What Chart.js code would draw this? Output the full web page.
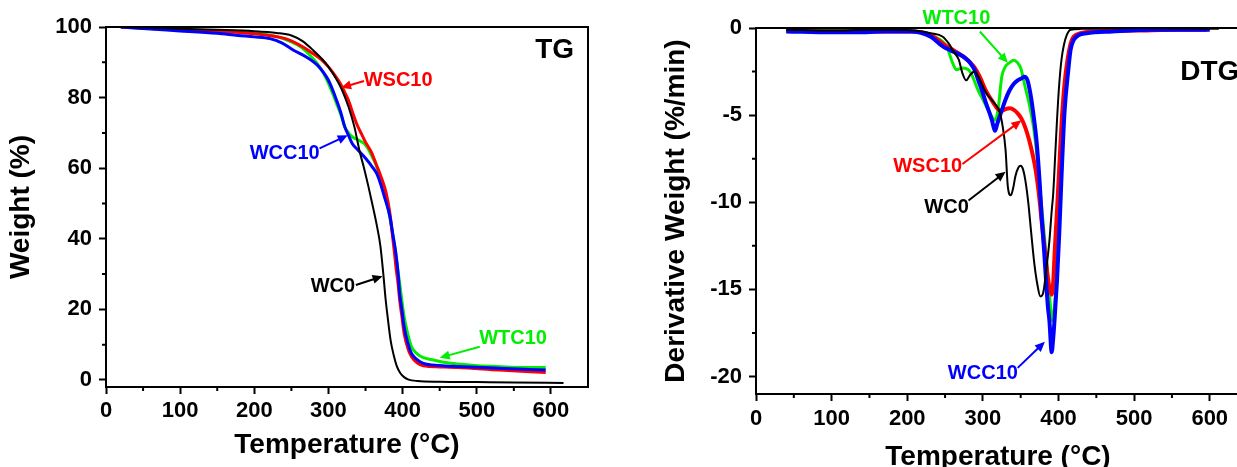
<!DOCTYPE html>
<html>
<head>
<meta charset="utf-8">
<script src="https://cdn.jsdelivr.net/npm/chart.js@4.4.1/dist/chart.umd.min.js"></script>
<style>
    html, body { margin: 0; padding: 0; background: #ffffff; overflow: hidden; width: 1237px; height: 467px; }
    #tgBox { position: absolute; left: 0; top: 0; width: 620px; height: 467px; }
    #dtgBox { position: absolute; left: 620px; top: 0; width: 660px; height: 480px; }
</style>
</head>
<body>
<div id="tgBox"><canvas id="tg" width="620" height="467"></canvas></div>
<div id="dtgBox"><canvas id="dtg" width="660" height="480"></canvas></div>
<script>
const FONT = '"Liberation Sans", Arial, sans-serif';
const BLACK = '#000000';
const RED = '#ff0000';
const GREEN = '#00ee00';
const BLUE = '#0000ff';

/* ---------- TG : weight (%) vs temperature ---------- */
const tgTempWC0 = [20, 60, 100, 150, 200, 230, 250, 265, 280, 292, 300, 310, 318, 327, 335, 342, 348, 354, 360, 365, 370, 374, 377, 380, 384, 388, 392, 397, 402, 408, 420, 450, 500, 550, 617];
const tgWC0 = [100, 99.8, 99.5, 99.2, 98.8, 98.3, 97.6, 96.0, 93.3, 90.8, 88.7, 85.5, 82.3, 77.4, 71.7, 64.8, 60.0, 54.7, 49.0, 44.0, 38.0, 30.0, 23.0, 17.5, 11.0, 7.0, 4.0, 1.9, 0.8, 0.1, -0.3, -0.5, -0.6, -0.7, -0.9];

const tgTempWSC10 = [20, 60, 100, 150, 199, 242, 260, 279, 290, 300, 308, 316, 322, 327, 333, 338, 345, 351, 358, 364, 371, 378, 383, 386, 389, 391, 394, 396, 399, 402, 407, 412, 420, 428, 450, 475, 530, 593];
const tgWSC10 = [100, 99.6, 99.2, 98.7, 98.1, 96.7, 95.0, 92.5, 90.8, 88.7, 86.5, 84.0, 81.5, 79.2, 75.5, 72.6, 69.5, 67.0, 64.5, 61.3, 57.5, 52.8, 47.0, 41.5, 36.0, 32.0, 27.0, 22.6, 18.0, 13.2, 9.0, 6.6, 4.8, 4.0, 3.7, 3.5, 2.8, 2.1];

const tgTempWTC10 = [20, 60, 100, 150, 199, 231, 250, 263, 275, 285, 293, 300, 306, 311, 317, 322, 327, 332, 340, 348, 354, 359, 365, 370, 375, 380, 384, 388, 392, 396, 399, 402, 407, 412, 420, 428, 440, 455, 475, 497, 540, 593];
const tgWTC10 = [100, 99.6, 99.3, 98.9, 98.4, 97.2, 95.8, 94.3, 92.0, 89.6, 87.0, 84.0, 81.0, 78.3, 75.0, 71.7, 70.0, 68.9, 68.0, 67.0, 65.3, 63.2, 60.5, 57.5, 53.5, 49.0, 44.5, 39.6, 33.5, 27.4, 22.5, 17.9, 13.0, 9.4, 7.3, 6.3, 5.7, 5.0, 4.5, 4.1, 3.7, 3.5];

const tgTempWCC10 = [20, 60, 100, 150, 178, 200, 221, 237, 253, 270, 285, 293, 300, 306, 311, 317, 322, 327, 332, 340, 350, 359, 365, 370, 376, 383, 387, 391, 394, 396, 399, 402, 407, 412, 420, 428, 450, 475, 530, 593];
const tgWCC10 = [100, 99.4, 98.9, 98.2, 97.6, 97.2, 96.7, 95.5, 93.4, 91.5, 89.2, 87.2, 84.9, 82.0, 79.2, 75.5, 71.7, 69.3, 67.0, 65.1, 62.8, 60.4, 58.5, 55.7, 51.5, 46.2, 41.0, 35.8, 30.0, 24.5, 20.0, 15.1, 10.5, 7.5, 5.7, 4.7, 4.1, 3.8, 3.3, 2.8];

const tgXTicks = [0, 100, 200, 300, 400, 500, 600];
const tgXMinor = [50, 150, 250, 350, 450, 550];
const tgYTicks = [0, 20, 40, 60, 80, 100];
const tgYMinor = [10, 30, 50, 70, 90];

// text labels with arrows, in data units (temperature, weight)
const tgNotes = [
    { text: 'WSC10', color: RED, x: 394, y: 84.9, from: [348, 84.7], to: [317, 82.8] },
    { text: 'WCC10', color: BLUE, x: 241, y: 64.3, from: [288, 65.6], to: [326, 69.3] },
    { text: 'WC0', color: BLACK, x: 306, y: 26.4, from: [337, 26.9], to: [373, 29.4] },
    { text: 'WTC10', color: GREEN, x: 549, y: 11.8, from: [504, 9.4], to: [450, 6.3] },
    { text: 'TG', color: BLACK, x: 605, y: 93.4, size: 28 },
];

/* ---------- DTG : derivative weight (%/min) vs temperature ---------- */
const dtgTempWC0 = [40, 100, 150, 184, 210, 231, 247, 255, 262, 268, 273, 278, 283, 289, 294, 304, 315, 322, 326, 330, 333, 337, 340, 343, 347, 350, 353, 356, 360, 364, 368, 372, 376, 379, 381, 384, 388, 391, 393, 396, 398, 401, 404, 407, 411, 416, 430, 500, 612];
const dtgWC0 = [-0.1, -0.15, -0.1, -0.1, -0.15, -0.3, -0.5, -0.9, -1.4, -1.8, -2.6, -3.0, -2.7, -2.5, -2.8, -3.7, -4.3, -4.8, -5.6, -7.0, -9.1, -9.6, -9.2, -8.5, -8.0, -7.9, -8.1, -8.7, -10.0, -11.8, -13.5, -14.7, -15.4, -15.3, -14.9, -13.8, -12.2, -10.5, -9.5, -7.0, -5.3, -3.2, -1.8, -1.0, -0.4, -0.1, -0.05, 0, -0.05];

const dtgTempWSC10 = [40, 100, 132, 170, 205, 231, 252, 262, 273, 288, 296, 304, 311, 317, 321, 325, 330, 336, 341, 346, 351, 356, 361, 366, 370, 374, 378, 382, 385, 388, 391, 393, 395, 398, 401, 404, 408, 412, 416, 420, 429, 445, 500, 560, 596];
const dtgWSC10 = [-0.15, -0.2, -0.2, -0.2, -0.2, -0.4, -1.05, -1.3, -1.6, -2.2, -2.8, -3.6, -4.1, -4.5, -4.7, -4.75, -4.65, -4.6, -4.7, -4.9, -5.2, -5.7, -6.4, -7.3, -8.2, -9.5, -11.2, -12.8, -14.0, -14.9, -15.3, -14.6, -12.8, -10.5, -8.0, -5.5, -3.2, -1.8, -0.9, -0.5, -0.3, -0.2, -0.15, -0.1, -0.1];

const dtgTempWTC10 = [40, 100, 150, 205, 236, 252, 260, 265, 273, 283, 294, 300, 307, 312, 316, 320, 325, 330, 335, 341, 346, 350, 356, 362, 367, 372, 377, 381, 385, 389, 392, 395, 398, 401, 404, 408, 412, 416, 420, 430, 445, 487, 540, 600];
const dtgWTC10 = [-0.1, -0.15, -0.15, -0.2, -0.5, -1.05, -2.0, -2.4, -2.3, -2.5, -3.6, -4.1, -4.7, -5.1, -5.3, -4.7, -2.8, -2.2, -2.0, -1.85, -2.0, -2.3, -3.4, -4.5, -5.7, -7.5, -9.9, -11.8, -13.7, -15.8, -16.8, -15.8, -13.7, -10.5, -7.5, -4.2, -2.0, -1.0, -0.6, -0.35, -0.2, -0.1, -0.05, -0.05];

const dtgTempWCC10 = [40, 100, 132, 170, 205, 231, 247, 258, 268, 276, 283, 289, 294, 299, 304, 309, 312, 316, 319, 322, 326, 330, 335, 341, 346, 351, 355, 359, 363, 367, 371, 375, 378, 381, 384, 386, 388, 391, 393, 395, 398, 401, 404, 408, 413, 416, 420, 427, 437, 471, 523, 600];
const dtgWCC10 = [-0.2, -0.25, -0.25, -0.2, -0.2, -0.5, -1.05, -1.3, -1.5, -1.7, -2.0, -2.4, -3.0, -3.6, -4.3, -4.9, -5.3, -5.9, -5.5, -5.1, -4.6, -4.1, -3.6, -3.2, -3.0, -2.9, -2.8, -3.0, -3.8, -5.0, -6.5, -8.8, -11.0, -12.8, -14.8, -16.0, -16.8, -18.6, -17.8, -16.6, -14.5, -11.8, -8.5, -4.8, -2.4, -1.25, -0.7, -0.4, -0.3, -0.2, -0.1, -0.1];

const dtgXTicks = [0, 100, 200, 300, 400, 500, 600];
const dtgXMinor = [50, 150, 250, 350, 450, 550];
const dtgYTicks = [-20, -15, -10, -5, 0];
const dtgYMinor = [-2.5, -7.5, -12.5, -17.5];

const dtgNotes = [
    { text: 'WTC10', color: GREEN, x: 265, y: 0.52, from: [296, -0.2], to: [333, -2.0] },
    { text: 'WSC10', color: RED, x: 227, y: -7.97, from: [273, -7.8], to: [351, -5.3] },
    { text: 'WC0', color: BLACK, x: 252, y: -10.3, from: [281, -9.9], to: [330, -8.25] },
    { text: 'WCC10', color: BLUE, x: 300, y: -19.8, from: [346, -19.5], to: [382, -18.0] },
    { text: 'DTG', color: BLACK, x: 561, y: -2.55, size: 28, align: 'left' },
];

function pts(xs, ys) {
    return xs.map((x, i) => ({ x: x, y: ys[i] }));
}

function line(label, color, width, xs, ys) {
    return {
        label: label,
        data: pts(xs, ys),
        borderColor: color,
        backgroundColor: color,
        borderWidth: width,
        pointRadius: 0,
        fill: false,
        cubicInterpolationMode: 'monotone',
    };
}

// frame on top/right plus the small minor ticks
function framePlugin(minorX, minorY, drawRight) {
    return {
        id: 'frame',
        afterDraw(chart) {
            const { ctx, chartArea: a } = chart;
            const xs = chart.scales.x;
            const ys = chart.scales.y;
            ctx.save();
            ctx.strokeStyle = BLACK;
            ctx.lineWidth = 2;
            ctx.beginPath();
            ctx.moveTo(a.left - 1, a.top);
            ctx.lineTo(a.right + 1, a.top);
            if (drawRight) {
                ctx.moveTo(a.right, a.top);
                ctx.lineTo(a.right, a.bottom);
            }
            minorX.forEach((v) => {
                const p = xs.getPixelForValue(v);
                ctx.moveTo(p, a.bottom);
                ctx.lineTo(p, a.bottom + 4);
            });
            minorY.forEach((v) => {
                const p = ys.getPixelForValue(v);
                ctx.moveTo(a.left, p);
                ctx.lineTo(a.left - 4, p);
            });
            ctx.stroke();
            ctx.restore();
        },
    };
}

// sample names with arrows pointing at their curve
function notesPlugin(notes) {
    return {
        id: 'notes',
        afterDatasetsDraw(chart) {
            const { ctx } = chart;
            const xs = chart.scales.x;
            const ys = chart.scales.y;
            ctx.save();
            notes.forEach((n) => {
                ctx.fillStyle = n.color;
                ctx.strokeStyle = n.color;
                ctx.font = 'bold ' + (n.size || 20) + 'px ' + FONT;
                ctx.textAlign = n.align || 'center';
                ctx.textBaseline = 'middle';
                ctx.fillText(n.text, xs.getPixelForValue(n.x), ys.getPixelForValue(n.y));
                if (n.from) {
                    const x1 = xs.getPixelForValue(n.from[0]);
                    const y1 = ys.getPixelForValue(n.from[1]);
                    const x2 = xs.getPixelForValue(n.to[0]);
                    const y2 = ys.getPixelForValue(n.to[1]);
                    const ang = Math.atan2(y2 - y1, x2 - x1);
                    const len = 10;
                    ctx.lineWidth = 2;
                    ctx.beginPath();
                    ctx.moveTo(x1, y1);
                    ctx.lineTo(x2 - Math.cos(ang) * len * 0.8, y2 - Math.sin(ang) * len * 0.8);
                    ctx.stroke();
                    ctx.beginPath();
                    ctx.moveTo(x2, y2);
                    ctx.lineTo(x2 - len * Math.cos(ang) + 4.5 * Math.sin(ang), y2 - len * Math.sin(ang) - 4.5 * Math.cos(ang));
                    ctx.lineTo(x2 - len * Math.cos(ang) - 4.5 * Math.sin(ang), y2 - len * Math.sin(ang) + 4.5 * Math.cos(ang));
                    ctx.closePath();
                    ctx.fill();
                }
            });
            ctx.restore();
        },
    };
}

function axis(opts) {
    return {
        type: 'linear',
        min: opts.min,
        max: opts.max,
        border: { display: true, color: BLACK, width: 2 },
        grid: {
            display: true,
            drawOnChartArea: false,
            drawTicks: true,
            tickLength: 7,
            tickWidth: 2,
            tickColor: BLACK,
        },
        ticks: {
            color: BLACK,
            padding: opts.tickPad,
            font: { family: FONT, size: 22, weight: 'bold' },
            callback: (v) => String(v),
        },
        title: {
            display: true,
            text: opts.title,
            color: BLACK,
            padding: opts.titlePad,
            font: { family: FONT, size: 28, weight: 'bold' },
        },
        afterBuildTicks: (scale) => {
            scale.ticks = opts.ticks.map((v) => ({ value: v }));
        },
        afterFit: (scale) => {
            if (opts.width) scale.width = opts.width;
            if (opts.height) scale.height = opts.height;
        },
    };
}

function baseOptions(padding, xAxis, yAxis) {
    return {
        responsive: false,
        animation: false,
        devicePixelRatio: 1,
        layout: { padding: padding },
        plugins: {
            legend: { display: false },
            tooltip: { enabled: false },
        },
        scales: { x: xAxis, y: yAxis },
    };
}

Chart.defaults.font.family = FONT;

new Chart(document.getElementById('tg'), {
    type: 'line',
    data: {
        datasets: [
            line('WC0', BLACK, 2, tgTempWC0, tgWC0),
            line('WCC10', BLUE, 3, tgTempWCC10, tgWCC10),
            line('WSC10', RED, 3, tgTempWSC10, tgWSC10),
            line('WTC10', GREEN, 3, tgTempWTC10, tgWTC10),
        ],
    },
    options: baseOptions(
        { top: 27, right: 32, left: 0, bottom: 0 },
        axis({ min: 0, max: 650, ticks: tgXTicks, title: 'Temperature (°C)', tickPad: 4, titlePad: { top: 0, bottom: 5 }, height: 80 }),
        axis({ min: -2, max: 100, ticks: tgYTicks, title: 'Weight (%)', tickPad: 7, titlePad: { top: 4, bottom: 0 }, width: 106 })
    ),
    plugins: [framePlugin(tgXMinor, tgYMinor, true), notesPlugin(tgNotes)],
});

new Chart(document.getElementById('dtg'), {
    type: 'line',
    data: {
        datasets: [
            line('WC0', BLACK, 2, dtgTempWC0, dtgWC0),
            line('WCC10', BLUE, 4, dtgTempWCC10, dtgWCC10),
            line('WSC10', RED, 4, dtgTempWSC10, dtgWSC10),
            line('WTC10', GREEN, 3, dtgTempWTC10, dtgWTC10),
        ],
    },
    options: baseOptions(
        { top: 28, right: 40, left: 0, bottom: 0 },
        axis({ min: 0, max: 640, ticks: dtgXTicks, title: 'Temperature (°C)', tickPad: 5, titlePad: { top: 0, bottom: 6 }, height: 86 }),
        axis({ min: -21, max: 0, ticks: dtgYTicks, title: 'Derivative Weight (%/min)', tickPad: 7, titlePad: { top: 39, bottom: 0 }, width: 136 })
    ),
    plugins: [framePlugin(dtgXMinor, dtgYMinor, false), notesPlugin(dtgNotes)],
});
</script>
</body>
</html>
